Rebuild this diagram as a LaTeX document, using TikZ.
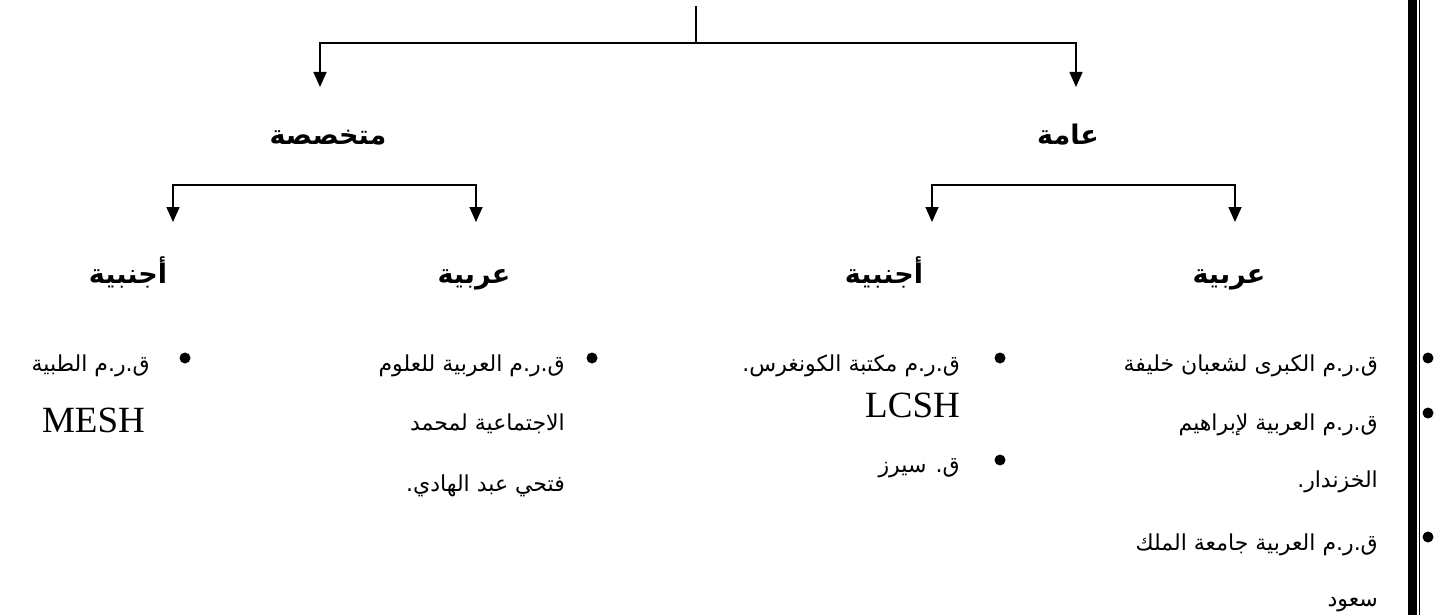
\documentclass[tikz,border=0pt]{standalone}
\usepackage{fontspec}
\usepackage{tikz}
\usetikzlibrary{arrows.meta}
\TeXXeTstate=1
\newfontfamily\arabicfont[Script=Arabic]{DejaVu Sans}
\newfontfamily\latinfont{Liberation Serif}
\tikzset{
  head/.style={font=\arabicfont\bfseries\fontsize{27}{30}\selectfont, inner sep=0pt, anchor=base},
  item/.style={font=\arabicfont\fontsize{22}{26}\selectfont, anchor=base east, inner sep=0pt},
  latin/.style={font=\latinfont\fontsize{37}{42}\selectfont, anchor=base east, inner sep=0pt},
  dot/.style={circle, fill=black, minimum size=11pt, inner sep=0pt},
  link/.style={draw=black, line width=1.6pt},
  arr/.style={link, -{Triangle[length=15pt, width=13pt]}}}

\begin{document}
\begin{tikzpicture}[x=1pt, y=-1pt]
  \useasboundingbox (0,0) rectangle (1448,615);
  % top of the tree
  \coordinate (root) at (696,6);
  \coordinate (fork) at (696,43);
  \coordinate (tipspec) at (320,87);
  \coordinate (tipgen) at (1076,87);
  \node[head] (spec) at (328,145) {\beginR متخصصة\endR};
  \node[head] (gen) at (1068,145) {\beginR عامة\endR};
  \draw[link] (root) -- (fork);
  \draw[arr] (fork) -| (tipspec);
  \draw[arr] (fork) -| (tipgen);
  % second level
  \coordinate (specbar) at (324,185);
  \coordinate (tipspecfo) at (173,222);
  \coordinate (tipspecar) at (476,222);
  \coordinate (genbar) at (1084,185);
  \coordinate (tipgenfo) at (932,222);
  \coordinate (tipgenar) at (1235,222);
  \draw[arr] (specbar) -| (tipspecfo);
  \draw[arr] (specbar) -| (tipspecar);
  \draw[arr] (genbar) -| (tipgenfo);
  \draw[arr] (genbar) -| (tipgenar);
  \node[head] (specfo) at (128,283) {\beginR أجنبية\endR};
  \node[head] (specar) at (474,283) {\beginR عربية\endR};
  \node[head] (genfo) at (884,283) {\beginR أجنبية\endR};
  \node[head] (genar) at (1229,283) {\beginR عربية\endR};
  % specialised, foreign
  \node[dot] (dmed) at (185,358) {};
  \node[item] (med) at (150,371) {\beginR ق.ر.م الطبية\endR};
  \node[latin] (mesh) at (145,432) {MESH};
  % specialised, arabic
  \node[dot] (dsoc) at (592,358) {};
  \node[item] (soca) at (565,371) {\beginR ق.ر.م العربية للعلوم\endR};
  \node[item] (socb) at (565,430) {\beginR الاجتماعية لمحمد\endR};
  \node[item] (socc) at (565,491) {\beginR فتحي عبد الهادي.\endR};
  % general, foreign
  \node[dot] (dlc) at (1000,358) {};
  \node[item] (lc) at (960,371) {\beginR ق.ر.م مكتبة الكونغرس.\endR};
  \node[latin] (lcsh) at (960,417) {LCSH};
  \node[dot] (dsears) at (1000,460) {};
  \node[item] (sears) at (960,472) {\beginR ق. سيرز\endR};
  % general, arabic
  \node[dot] (dsha) at (1428,358) {};
  \node[dot] (dkhaz) at (1428,413) {};
  \node[dot] (dksu) at (1428,537) {};
  \node[item] (sha) at (1378,371) {\beginR ق.ر.م الكبرى لشعبان خليفة\endR};
  \node[item] (khaza) at (1378,430) {\beginR ق.ر.م العربية لإبراهيم\endR};
  \node[item] (khazb) at (1378,487) {\beginR الخزندار.\endR};
  \node[item] (ksua) at (1378,550) {\beginR ق.ر.م العربية جامعة الملك\endR};
  \node[item] (ksub) at (1378,606) {\beginR سعود\endR};
  % page border
  \draw[line width=9pt] (1412.5,0) -- (1412.5,615);
  \draw[line width=1.2pt] (1419.5,0) -- (1419.5,615);
\end{tikzpicture}
\end{document}
